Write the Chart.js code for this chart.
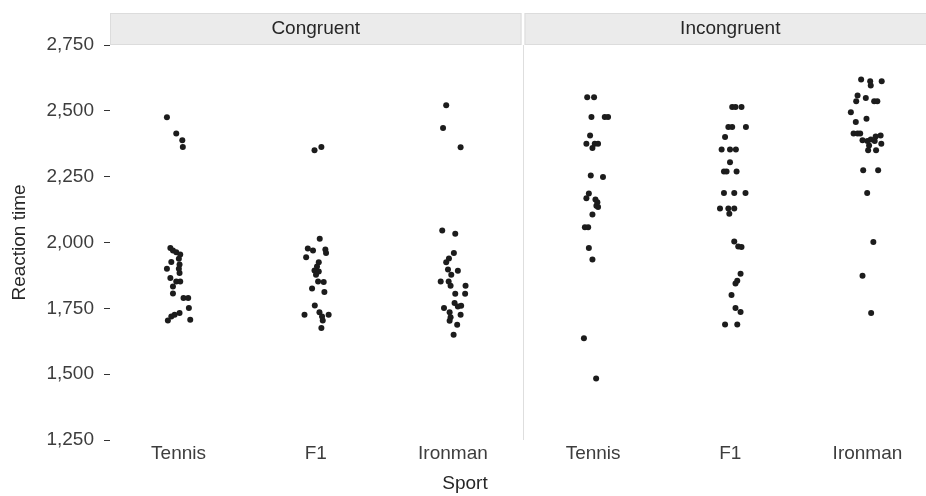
<!DOCTYPE html>
<html>
<head>
<meta charset="utf-8">
<script src="https://cdn.jsdelivr.net/npm/chart.js@4"></script>
<style>
  html, body { margin: 0; padding: 0; background: #fff; }
  #wrap { width: 926px; height: 496px; position: relative; }
</style>
</head>
<body>
<div id="wrap"><canvas id="chartReaksi"></canvas></div>
<script>
const conditions = ['Congruent', 'Incongruent'];
const sports = ['Tennis', 'F1', 'Ironman'];
const yTicks = [1250, 1500, 1750, 2000, 2250, 2500, 2750];

// reaction times (ms) and horizontal jitter (fraction of category width)
const congruentTennisY = [2476, 2414, 2388, 2363, 1979, 1970, 1963, 1954, 1926, 1938, 1916, 1900, 1900, 1884, 1865, 1852, 1852, 1833, 1806, 1789, 1789, 1751, 1732, 1726, 1719, 1704, 1707];
const congruentTennisJitter = [-0.085, -0.017, 0.027, 0.031, -0.06, -0.041, -0.017, 0.012, -0.053, 0.002, 0.007, -0.085, 0.002, 0.007, -0.06, -0.017, 0.012, -0.041, -0.041, 0.036, 0.07, 0.075, 0.007, -0.029, -0.053, -0.078, 0.085];

const congruentF1Y = [2350, 2363, 2014, 1977, 1970, 1973, 1960, 1944, 1925, 1909, 1894, 1890, 1878, 1852, 1850, 1825, 1812, 1761, 1726, 1735, 1719, 1726, 1704, 1675];
const congruentF1Jitter = [-0.009, 0.041, 0.029, -0.058, -0.02, 0.07, 0.075, -0.07, 0.022, 0.009, -0.009, 0.022, 0.002, 0.017, 0.058, -0.027, 0.063, -0.007, -0.082, 0.027, 0.046, 0.094, 0.051, 0.041];

const congruentIronmanY = [2521, 2435, 2362, 2046, 2033, 1960, 1939, 1925, 1897, 1893, 1878, 1852, 1852, 1836, 1836, 1805, 1805, 1770, 1760, 1757, 1751, 1735, 1726, 1716, 1703, 1688, 1650];
const congruentIronmanJitter = [-0.049, -0.072, 0.056, -0.078, 0.017, 0.007, -0.029, -0.049, -0.036, 0.036, -0.012, -0.089, -0.031, -0.017, 0.092, 0.017, 0.089, 0.012, 0.06, 0.036, -0.065, -0.024, 0.056, -0.017, -0.024, 0.031, 0.005];

const incongruentTennisY = [2552, 2552, 2477, 2477, 2477, 2406, 2375, 2375, 2375, 2359, 2254, 2249, 2186, 2168, 2163, 2153, 2135, 2140, 2106, 2058, 2058, 1979, 1935, 1636, 1484];
const incongruentTennisJitter = [-0.043, 0.007, -0.012, 0.085, 0.109, -0.022, -0.049, 0.012, 0.036, -0.005, -0.017, 0.072, -0.031, -0.049, 0.017, 0.031, 0.036, 0.024, -0.005, -0.06, -0.036, -0.031, -0.005, -0.067, 0.022];

const incongruentF1Y = [2515, 2515, 2515, 2439, 2439, 2439, 2401, 2353, 2353, 2353, 2305, 2270, 2270, 2270, 2188, 2188, 2188, 2129, 2129, 2129, 2109, 2004, 1985, 1983, 1881, 1855, 1844, 1801, 1751, 1736, 1689, 1689];
const incongruentF1Jitter = [0.014, 0.038, 0.082, -0.014, 0.014, 0.114, -0.038, -0.063, -0.002, 0.041, -0.002, -0.046, -0.027, 0.046, -0.046, 0.029, 0.111, -0.075, -0.014, 0.029, -0.007, 0.029, 0.058, 0.082, 0.075, 0.051, 0.038, 0.009, 0.038, 0.075, -0.038, 0.051];

const incongruentIronmanY = [2619, 2612, 2596, 2612, 2558, 2536, 2549, 2536, 2536, 2495, 2458, 2470, 2414, 2414, 2414, 2388, 2385, 2391, 2403, 2406, 2385, 2375, 2368, 2350, 2350, 2274, 2274, 2188, 2002, 1874, 1732];
const incongruentIronmanJitter = [-0.046, 0.02, 0.024, 0.104, -0.072, -0.082, -0.012, 0.049, 0.072, -0.121, -0.085, -0.007, -0.101, -0.072, -0.053, -0.036, 0, 0.024, 0.06, 0.096, 0.053, 0.101, 0.012, 0.005, 0.063, -0.031, 0.078, -0.002, 0.043, -0.036, 0.027];

const groups = [
  [congruentTennisY, congruentTennisJitter],
  [congruentF1Y, congruentF1Jitter],
  [congruentIronmanY, congruentIronmanJitter],
  [incongruentTennisY, incongruentTennisJitter],
  [incongruentF1Y, incongruentF1Jitter],
  [incongruentIronmanY, incongruentIronmanJitter]
];

// x units: one per category, small gap between the two panels
const panelGap = 0.022;
const panelStart = [0, 3 + panelGap];
const xMax = 5.927;
const centers = [];
panelStart.forEach(start => sports.forEach((s, i) => centers.push(start + i + 0.5)));
const xLabels = centers.map((c, i) => sports[i % sports.length]);

const points = [];
groups.forEach(([ys, jit], g) => {
  ys.forEach((y, i) => points.push({ x: centers[g] + jit[i], y: y }));
});

const FONT = '"Liberation Sans", Arial, sans-serif';

const facetPlugin = {
  id: 'facetStrips',
  beforeDatasetsDraw(chart) {
    const { ctx, chartArea, scales } = chart;
    const x = scales.x;
    const stripTop = 13, stripBottom = 45;
    ctx.save();
    // separator between panels
    const sepX = Math.round(x.getPixelForValue(3 + panelGap / 2)) + 0.5;
    ctx.strokeStyle = '#dedede';
    ctx.lineWidth = 1;
    ctx.beginPath();
    ctx.moveTo(sepX, stripBottom);
    ctx.lineTo(sepX, chartArea.bottom);
    ctx.stroke();

    conditions.forEach((name, p) => {
      const left = x.getPixelForValue(panelStart[p]);
      const right = Math.min(x.getPixelForValue(panelStart[p] + 3), chart.width + 20);
      ctx.fillStyle = '#ebebeb';
      ctx.fillRect(left, stripTop, right - left, stripBottom - stripTop);
      ctx.strokeStyle = '#dcdcdc';
      ctx.strokeRect(left + 0.5, stripTop + 0.5, right - left - 1, stripBottom - stripTop - 1);
      ctx.fillStyle = '#262626';
      ctx.font = '19px ' + FONT;
      ctx.textAlign = 'center';
      ctx.textBaseline = 'middle';
      const mid = x.getPixelForValue(panelStart[p] + 1.5);
      ctx.fillText(name, mid, (stripTop + stripBottom) / 2);
    });

    // axis titles
    ctx.fillStyle = '#262626';
    ctx.font = '19px ' + FONT;
    ctx.textAlign = 'center';
    ctx.textBaseline = 'middle';
    ctx.fillText('Sport', 465, 484);
    ctx.translate(20, (chartArea.top + chartArea.bottom) / 2);
    ctx.rotate(-Math.PI / 2);
    ctx.fillText('Reaction time', 0, 0);
    ctx.restore();
  }
};

new Chart(document.getElementById('chartReaksi'), {
  type: 'scatter',
  data: {
    datasets: [{
      data: points,
      backgroundColor: '#1c1c1c',
      borderWidth: 0,
      pointRadius: 3,
      pointHoverRadius: 3
    }]
  },
  options: {
    responsive: true,
    maintainAspectRatio: false,
    animation: false,
    events: [],
    layout: { padding: { top: 45, left: 0, right: 0, bottom: 0 } },
    plugins: {
      legend: { display: false },
      tooltip: { enabled: false }
    },
    scales: {
      x: {
        type: 'linear',
        min: 0,
        max: xMax,
        afterBuildTicks: axis => { axis.ticks = centers.map(v => ({ value: v })); },
        afterFit: axis => { axis.height = 56; },
        grid: { display: false, drawTicks: false },
        border: { display: false },
        ticks: {
          autoSkip: false,
          maxRotation: 0,
          padding: 2,
          color: '#3d3d3d',
          font: { family: FONT, size: 19 },
          callback: (value, index) => xLabels[index]
        }
      },
      y: {
        min: yTicks[0],
        max: yTicks[yTicks.length - 1],
        afterBuildTicks: axis => { axis.ticks = yTicks.map(v => ({ value: v })); },
        afterFit: axis => { axis.width = 110; },
        grid: { drawOnChartArea: false, drawTicks: true, tickLength: 6, tickColor: '#333' },
        border: { display: false },
        ticks: {
          padding: 10,
          color: '#3d3d3d',
          font: { family: FONT, size: 19 },
          callback: v => v.toLocaleString('en-US')
        }
      }
    }
  },
  plugins: [facetPlugin]
});
</script>
</body>
</html>
